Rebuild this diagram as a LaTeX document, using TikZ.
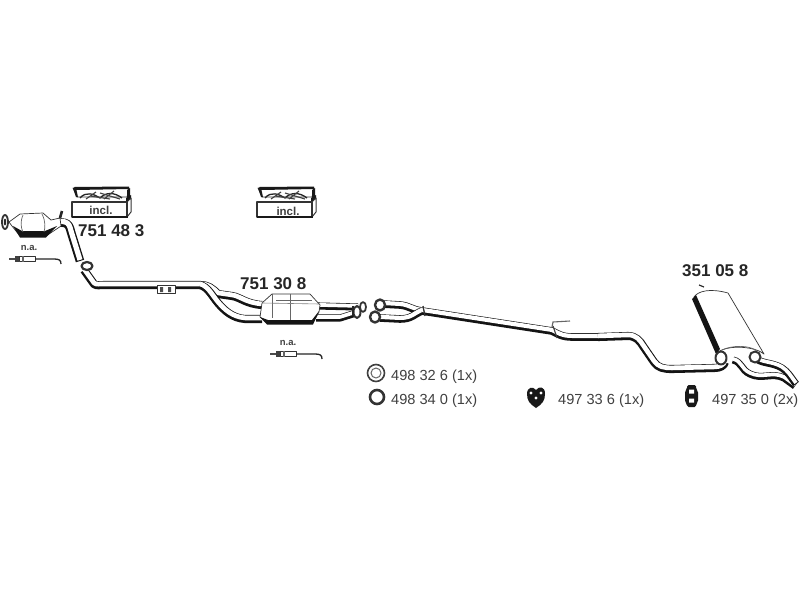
\documentclass[tikz,border=0pt]{standalone}
\usepackage{fontspec}
\setmainfont{Liberation Sans}
\newcommand{\pipe}[2]{%
  \draw[line width=#1pt+0.6pt,line join=round,black!92] #2;
  \draw[line width=#1pt-2.8pt,line join=round,white,transform canvas={yshift=1.1pt}] #2;}
\tikzset{
  partno/.style={font=\bfseries\fontsize{17}{19}\selectfont,text=black!85,anchor=west,inner sep=0pt},
  qty/.style={font=\fontsize{14.6}{16}\selectfont,text=black!75,anchor=west,inner sep=0pt},
  tiny label/.style={font=\bfseries\fontsize{9.5}{11}\selectfont,text=black!75,inner sep=0pt},
  incl label/.style={font=\bfseries\fontsize{11.5}{13}\selectfont,text=black!75,inner sep=0pt},
  outline/.style={draw=black!80,line width=0.7pt,fill=white,line join=round},
}
\newcommand{\kitbox}[1]{%
  \begin{scope}[shift={(#1,0)}]
    \draw[outline] (1,188) -- (57,188) -- (55,197) -- (5,197) -- cycle;
    \fill[black!90] (2,187) -- (57,186.5) -- (57,189) -- (4,190) -- cycle;
    \fill[black!90] (1,188) -- (4,188) -- (6,197) -- (4,197) -- cycle;
    \draw[black!85,line width=1.3pt] (8,198) .. controls (14,191) and (22,194) .. (28,198)
      .. controls (34,192) and (42,192) .. (50,198);
    \draw[black!75,line width=1.1pt] (14,199) -- (24,192) (32,199) -- (42,191) (28,193) -- (48,199) (18,196) -- (38,199);
    \fill[black!90] (54,198) -- (59,195) -- (59,199) -- (54,202) -- cycle;
    \fill[black!90] (55,190) -- (58,188) -- (58,196) -- (55,198) -- cycle;
    \draw[outline,line width=1pt] (55,202) -- (59,198) -- (59,212) -- (55,217) -- cycle;
    \draw[outline,line width=1.2pt] (0,202) rectangle (55,217);
    \fill[black!90] (0,216) rectangle (56,218.2);
  \end{scope}}
\newcommand{\sensor}[2]{%
  \begin{scope}[shift={(#1,#2)}]
    \draw[black!70,line width=1.1pt] (-1,0) -- (5,0);
    \fill[black!75] (5,-3) rectangle (9,3);
    \draw[outline,line width=1pt] (9,-2.5) rectangle (25,2);
    \fill[black!60] (12,-3.2) rectangle (14,3.2);
    \draw[black!85,line width=1.3pt] (25,0) -- (44,0) .. controls (49,0) and (51,1) .. (51,5);
  \end{scope}}
\begin{document}
\begin{tikzpicture}[x=1pt,y=-1pt]
\useasboundingbox (0,0) rectangle (800,600);
\fill[white] (0,0) rectangle (800,600);

% first catalyst
\pipe{8}{(58,222) -- (65,223) .. controls (69,224) and (70,228) .. (71,232) -- (80,261)}
\draw[black!85,line width=2.6pt] (62,211) -- (60,218);
\draw[outline] (9,222) -- (20,214) -- (43,213) -- (51,220) -- (60,218) -- (61,226) -- (46,236) -- (20,236) -- (12,226) -- cycle;
\fill[black!92] (13,226) -- (22,231) -- (45,231) -- (57,226) -- (46,237.5) -- (20,237.5) -- cycle;
\draw[black!60,line width=0.7pt] (23,215) .. controls (20,222) and (21,228) .. (23,232);
\draw[black!60,line width=0.7pt] (42,214) .. controls (46,222) and (45,228) .. (44,232);
\draw[outline,line width=1.8pt] (5,222) ellipse (3 and 7);
\fill[black!85] (5,222) ellipse (1.2 and 3.5);

\kitbox{72}
\node[incl label] (incl1) at (101,210) {incl.};
\node[partno] (p1) at (78,231) {751 48 3};
\node[tiny label] (na1) at (29,248) {n.a.};
\sensor{10}{259}

% front pipe
\pipe{7.5}{(84,270) -- (94,284) .. controls (96,286) and (100,285) .. (104,285) -- (200,285) .. controls (208,285) and (212,288) .. (218,294) -- (232,296) .. controls (240,297) and (246,304) .. (262,305)}
\pipe{7.5}{(200,285) .. controls (208,287) and (212,296) .. (218,303) .. controls (224,310) and (232,318) .. (245,319) -- (262,319)}
\draw[outline,line width=2.2pt] (87,266) ellipse (5.5 and 4);
\draw[outline,line width=0.9pt] (157,285) -- (175,285) -- (175,293) -- (157,293) -- cycle;
\fill[black!70] (160,287) rectangle (163,292) (168,287) rectangle (171,292);

% second catalyst
\pipe{6.5}{(318,306) -- (358,307)}
\pipe{6.5}{(316,318) -- (340,318) -- (356,313)}
\draw[outline] (262,303) -- (272,294) -- (310,294) -- (320,305) -- (319,312) -- (313,323) -- (267,323) -- (260,317) -- cycle;
\fill[black!92] (260,317) -- (268,320) -- (312,320) -- (319,311) -- (313,324.5) -- (267,324.5) -- cycle;
\draw[black!60,line width=0.7pt] (272,294) -- (272,318) (290,294) -- (290,320) (276,300) -- (312,300);
\draw[black!50,line width=0.6pt] (262,303) -- (320,304);
\node[partno] (p2) at (240,284) {751 30 8};
\kitbox{257}
\node[incl label] (incl2) at (288,211) {incl.};
\node[tiny label] (na2) at (288,343) {n.a.};
\sensor{271}{354}
\draw[outline,line width=1.8pt] (363,307) ellipse (3 and 5);
\draw[outline,line width=2pt] (357,312) ellipse (3.5 and 6);
\draw[black!85,line width=1.2pt] (353,306) -- (353,316);

% centre pipe
\pipe{7}{(382,304) -- (400,305) .. controls (410,306) and (412,310) .. (422,311)}
\pipe{7}{(380,318) -- (400,319) .. controls (412,319) and (414,314) .. (422,311)}
\draw[outline,line width=2.4pt] (380,305) ellipse (5 and 5.5);
\draw[outline,line width=2.4pt] (375,317) ellipse (5 and 5.5);
\pipe{7}{(422,311) -- (552,331) .. controls (558,334) and (562,337) .. (572,337) -- (602,337)}
\draw[black!80,line width=1.3pt] (423,306) -- (425,316);
\draw[black!75,line width=1.1pt] (553,326) -- (557,338);
\draw[black!60,line width=1.1pt] (552,327) -- (553,322) -- (570,321);

% rear pipe
\pipe{7.5}{(598,337) -- (628,336) .. controls (636,336) and (640,341) .. (643,346) -- (654,362) .. controls (658,368) and (664,369) .. (672,369) -- (714,368) .. controls (720,368) and (724,366) .. (725,362)}

% muffler
\draw[outline] (694,297) .. controls (698,291) and (710,288) .. (728,293) -- (764,354) .. controls (756,347) and (730,344) .. (718,352) -- cycle;
\fill[black!92] (692,299) -- (696,295) -- (720,349) -- (716,354) -- cycle;
\draw[black!85,line width=1.2pt] (704,287) -- (699,285);
\draw[black!60,line width=0.7pt] (722,350) .. controls (732,345) and (750,345) .. (757,351);

% tail pipes
\pipe{6.5}{(733,360) .. controls (742,362) and (741,370) .. (750,374) .. controls (762,380) and (772,372) .. (784,378) -- (795,386)}
\pipe{6.5}{(755,358) .. controls (762,364) and (772,362) .. (782,368) .. controls (788,372) and (790,376) .. (796,384)}
\draw[outline,line width=2pt] (721,358) ellipse (5.5 and 6.5);
\draw[outline,line width=2pt] (755,357) ellipse (5.5 and 5.5);
\node[partno] (p3) at (682,271) {351 05 8};

% parts legend
\draw[black!75,line width=1.6pt] (376,373) circle (8.5);
\draw[black!60,line width=1pt] (376,373) circle (5);
\draw[black!80,line width=2.6pt] (377,397) circle (7);
\node[qty] (q1) at (391,377) {498 32 6 (1x)};
\node[qty] (q2) at (391,401) {498 34 0 (1x)};
% heart-shaped hanger
\fill[black!90] (536,408) .. controls (530,404) and (527,401) .. (527,394) .. controls (527,387) and (533,386) .. (536,390) .. controls (539,386) and (545,386) .. (545,394) .. controls (545,401) and (542,404) .. (536,408) -- cycle;
\fill[white] (531,393) circle (1.7) (541,393) circle (1.7) (536,398) circle (1.7);
\node[qty] (q3) at (558,401) {497 33 6 (1x)};
% block hanger
\fill[black!90,rounded corners=1.5pt] (687,385) -- (696,385) -- (696,389) -- (698,391) -- (698,402) -- (696,404) -- (696,407) -- (687,407) -- (687,404) -- (685,402) -- (685,391) -- (687,389) -- cycle;
\fill[white] (689,389.5) rectangle (694,393.5) (689,398.5) rectangle (694,402.5);
\node[qty] (q4) at (712,401) {497 35 0 (2x)};
\end{tikzpicture}
\end{document}
